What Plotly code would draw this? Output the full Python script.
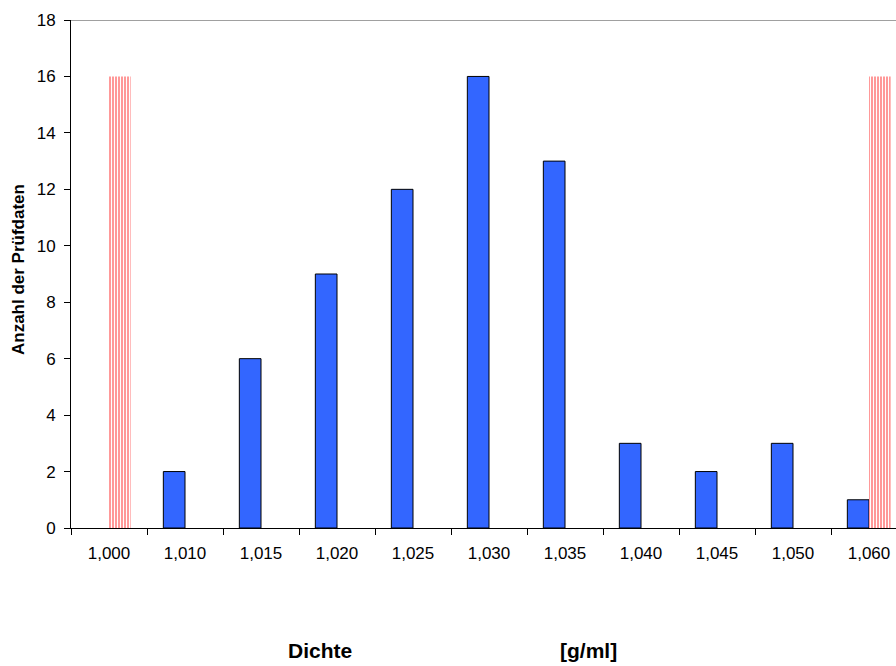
import plotly.graph_objects as go

categories = ["1,000", "1,010", "1,015", "1,020", "1,025", "1,030", "1,035", "1,040", "1,045", "1,050", "1,060"]
counts = [None, 2, 6, 9, 12, 16, 13, 3, 2, 3, 1]
limits = [16, None, None, None, None, None, None, None, None, None, 16]
y_ticks = [0, 2, 4, 6, 8, 10, 12, 14, 16, 18]

fig = go.Figure()
fig.add_trace(go.Bar(
    x=categories, y=counts, name="Anzahl",
    marker=dict(color="#3366FF", line=dict(color="#000000", width=1)),
))
fig.add_trace(go.Bar(
    x=categories, y=limits, name="Grenzen",
    marker=dict(color="#FF9999", line=dict(width=0),
                pattern=dict(shape="|", fgcolor="#FFFFFF", bgcolor="#FF9999",
                             size=3, solidity=1/3, fillmode="replace")),
))

font = "Liberation Sans, Arial, sans-serif"
# body margin removed below: plot area spans x 71..896, y 20..528 in the window
L, T, PH = 71, 20, 508
W, H = 896, 666
PW = W - L
fig.update_layout(
    width=W, height=H,
    margin=dict(l=L, r=0, t=T, b=H - T - PH),
    paper_bgcolor="white", plot_bgcolor="white",
    barmode="group", bargap=0.43, bargroupgap=0,
    showlegend=False,
    font=dict(family=font, size=17, color="#000000"),
    xaxis=dict(
        type="category", range=[-0.5, -0.5 + PW / 76],
        showline=True, linecolor="#000000", linewidth=1,
        ticks="outside", ticklen=6, tickcolor="#000000", tickson="boundaries",
        showgrid=False, zeroline=False, ticklabelstandoff=10,
        tickfont=dict(family=font, size=17),
    ),
    yaxis=dict(
        range=[0, 18], tickvals=y_ticks,
        showline=True, linecolor="#000000", linewidth=1,
        ticks="outside", ticklen=6, tickcolor="#000000",
        showgrid=False, zeroline=False, ticklabelstandoff=5,
        tickfont=dict(family=font, size=17),
    ),
    shapes=[dict(type="line", xref="paper", yref="y", x0=0, x1=1, y0=18, y1=18,
                 line=dict(color="#A0A0A0", width=2))],
    annotations=[
        dict(text="<b>Anzahl der Prüfdaten</b>", xref="paper", yref="paper",
             x=(18 - 71) / PW, y=(528 - 270) / PH, textangle=-90, showarrow=False,
             xanchor="center", yanchor="middle",
             font=dict(family=font, size=17)),
        dict(text="<b>Dichte</b>", xref="paper", yref="paper",
             x=(320 - 71) / PW, y=-(650 - 528) / PH, showarrow=False,
             xanchor="center", yanchor="middle", font=dict(family=font, size=21)),
        dict(text="<b>[g/ml]</b>", xref="paper", yref="paper",
             x=(588 - 71) / PW, y=-(650 - 528) / PH, showarrow=False,
             xanchor="center", yanchor="middle", font=dict(family=font, size=21)),
    ],
)

fig.write_html("out.html", config={"displayModeBar": False},
               post_script="document.body.style.margin='0px';document.body.style.overflow='hidden';")
